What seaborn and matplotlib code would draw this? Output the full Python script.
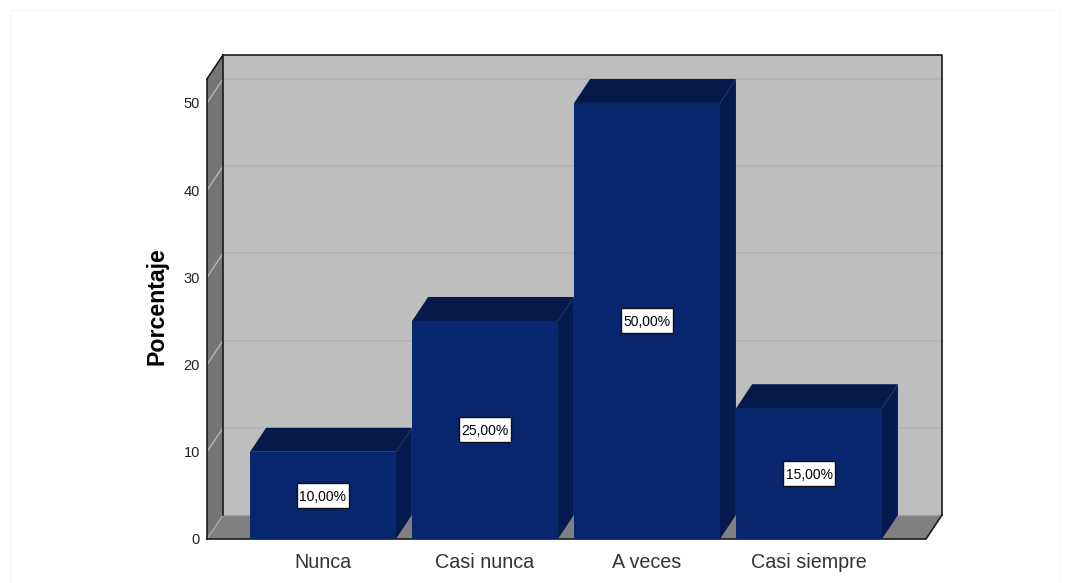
import matplotlib
matplotlib.use("Agg")
import matplotlib.pyplot as plt
from matplotlib.patches import Polygon, Rectangle
import seaborn as sns

categories = ["Nunca", "Casi nunca", "A veces", "Casi siempre"]
percentages = [10, 25, 50, 15]
bar_labels = ["10,00%", "25,00%", "50,00%", "15,00%"]
y_ticks = [0, 10, 20, 30, 40, 50]

sns.set_theme(style="white")
plt.rcParams["font.family"] = ["Liberation Sans", "DejaVu Sans"]

W, H = 1070, 583
fig = plt.figure(figsize=(W / 100, H / 100), dpi=100, facecolor="white")
fig.add_artist(Rectangle((10 / W, 0), (W - 20) / W, (H - 10) / H, transform=fig.transFigure,
                         fill=False, ec="#f8f8f8", lw=1))
ax = fig.add_axes([207 / W, 1 - 539 / H, (926 - 207) / W, (539 - 79) / H])
ax.patch.set_visible(False)

BAR_W = 0.9
XMIN, XMAX = -0.716, 3.722
YMAX = 52.75
sns.barplot(x=categories, y=percentages, color="#08266e", saturation=1, width=BAR_W, ax=ax,
            zorder=5, linewidth=0, edgecolor="none")
ax.set_xlim(XMIN, XMAX)
ax.set_ylim(0, YMAX)

# 3-D depth of the box, in data units (16 px right, 24 px up)
DX = 16 / 162
DY = 24 / 8.72
# label box size in data units (52 x 25 px)
BOX_W = 52 / 162
BOX_H = 25 / 8.72


def poly(pts, fc, ec="none", z=1, lw=0):
    ax.add_patch(Polygon(pts, closed=True, fc=fc, ec=ec, lw=lw, zorder=z, clip_on=False))


def line(xs, ys, c="#1a1a1a", lw=1.2, z=2):
    ax.plot(xs, ys, color=c, lw=lw, zorder=z, clip_on=False, solid_capstyle="projecting")


# walls and floor
poly([(XMIN + DX, DY), (XMAX + DX, DY), (XMAX + DX, YMAX + DY), (XMIN + DX, YMAX + DY)], "#bebebe")
poly([(XMIN, 0), (XMIN + DX, DY), (XMIN + DX, YMAX + DY), (XMIN, YMAX)], "#757575")
poly([(XMIN, 0), (XMAX, 0), (XMAX + DX, DY), (XMIN + DX, DY)], "#808080")

# gridlines on the walls
for t in y_ticks[1:]:
    line([XMIN + DX, XMAX + DX], [t + DY, t + DY], c="#b3b3b3", lw=1.2)
    line([XMIN, XMIN + DX], [t, t + DY], c="#b5b5b5", lw=1)
line([XMIN, XMIN + DX], [0, DY], c="#a8a8a8", lw=1)
line([XMIN + DX, XMAX + DX], [DY, DY], c="#a0a0a0", lw=1)

# box outline
line([XMIN + DX, XMAX + DX, XMAX + DX], [YMAX + DY, YMAX + DY, DY], lw=1.2, z=3)
line([XMIN + DX, XMIN + DX], [DY, YMAX + DY], lw=1.2, z=3)
line([XMIN, XMIN + DX], [YMAX, YMAX + DY], lw=1.2, z=3)
line([XMIN, XMIN], [0, YMAX], lw=1.2, z=3)
line([XMIN, XMAX, XMAX + DX], [0, 0, DY], lw=1.2, z=3)

# bar side and top faces, value labels
for i, v in enumerate(percentages):
    x0, x1 = i - BAR_W / 2, i + BAR_W / 2
    poly([(x1, 0), (x1 + DX, DY), (x1 + DX, v + DY), (x1, v)], "#051a4e", z=4)
    poly([(x0, v), (x1, v), (x1 + DX, v + DY), (x0 + DX, v + DY)], "#06194b", z=4)
    ax.add_patch(Rectangle((i - BOX_W / 2, v / 2 - BOX_H / 2), BOX_W, BOX_H,
                           fc="white", ec="#111111", lw=1, zorder=6))
    ax.text(i, v / 2, bar_labels[i], ha="center", va="center_baseline", fontsize=10,
            color="black", zorder=7)

ax.set_yticks(y_ticks)
ax.set_yticklabels([str(t) for t in y_ticks], fontsize=10.5, color="#222222")
ax.tick_params(axis="y", length=0, pad=5)
ax.tick_params(axis="x", length=0, pad=10, labelsize=14.2, labelcolor="#333333")
ax.set_ylabel("Porcentaje", fontsize=16.7, fontweight="bold", color="black")
ax.yaxis.set_label_coords((168 - 207) / (926 - 207), (539 - 306) / 460)
ax.set_xlabel("")
for s in ax.spines.values():
    s.set_visible(False)

fig.savefig("out.png", dpi=100, facecolor="white")
